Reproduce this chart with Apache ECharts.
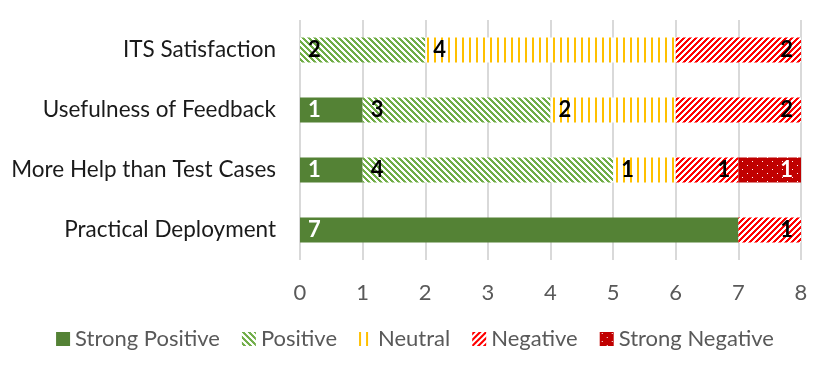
<!DOCTYPE html>
<html>
<head>
<meta charset="utf-8">
<script src="https://cdn.jsdelivr.net/npm/echarts@6/dist/echarts.min.js"></script>
<style>
  html, body { margin: 0; padding: 0; background: #fff; }
  #chart { width: 830px; height: 368px; }
</style>
</head>
<body>
<div id="chart"></div>
<script>
// data
var categories = ['ITS Satisfaction', 'Usefulness of Feedback', 'More Help than Test Cases', 'Practical Deployment'];
var strongPositive = [0, 1, 1, 7];
var positive = [2, 3, 4, 0];
var neutral = [4, 2, 1, 0];
var negative = [2, 2, 1, 1];
var strongNegative = [0, 0, 1, 0];
var xTicks = [0, 1, 2, 3, 4, 5, 6, 7, 8];

// patterns drawn pixel by pixel, like Excel fills
function makeTile(w, h, fg, bg, test) {
  var c = document.createElement('canvas');
  c.width = w; c.height = h;
  var ctx = c.getContext('2d');
  ctx.fillStyle = bg;
  ctx.fillRect(0, 0, w, h);
  ctx.fillStyle = fg;
  for (var y = 0; y < h; y++) {
    for (var x = 0; x < w; x++) {
      if (test(x, y)) ctx.fillRect(x, y, 1, 1);
    }
  }
  return c;
}

var posTile = makeTile(6, 6, '#70AD47', '#ffffff', function (x, y) { return ((x - y + 12) % 6) < 3; });
var neuTile = makeTile(7, 7, '#FFC000', '#ffffff', function (x, y) { return x < 2; });
var negTile = makeTile(6, 6, '#FF0000', '#ffffff', function (x, y) { return ((x + y) % 6) < 3; });
var snegTile = makeTile(10, 8, '#ffffff', '#C00000', function (x, y) {
  return (x === 2 && y === 1) || (x === 7 && y === 5);
});

function pat(tile) {
  return { image: tile, repeat: 'repeat' };
}

var chart = echarts.init(document.getElementById('chart'), null, { renderer: 'canvas' });

function seg(name, data, color, pos, labelColor) {
  return {
    name: name,
    type: 'bar',
    stack: 'total',
    barWidth: 25,
    data: data,
    itemStyle: { color: color },
    label: {
      show: true,
      position: pos,
      distance: 8,
      color: labelColor,
      fontFamily: 'Lato',
      fontWeight: 'bold',
      fontSize: 22,
      formatter: function (p) { return p.value ? String(p.value) : ''; }
    }
  };
}

chart.setOption({
  animation: false,
  textStyle: { fontFamily: 'Lato' },
  grid: { left: 300, right: 29, top: 20, bottom: 108 },
  legend: {
    bottom: 13,
    left: 'center',
    itemWidth: 14,
    itemHeight: 14,
    itemGap: 22,
    icon: 'rect',
    textStyle: { fontSize: 22, color: '#595959', fontFamily: 'Lato' },
    data: ['Strong Positive', 'Positive', 'Neutral', 'Negative', 'Strong Negative']
  },
  xAxis: {
    type: 'value',
    min: 0,
    max: 8,
    interval: 1,
    axisLine: { show: false },
    axisTick: { show: false },
    splitLine: { lineStyle: { color: '#d9d9d9', width: 2 } },
    axisLabel: {
      fontSize: 22,
      color: '#595959',
      margin: 22,
      formatter: function (v) { return xTicks.indexOf(v) >= 0 ? String(v) : ''; }
    }
  },
  yAxis: {
    type: 'category',
    inverse: true,
    data: categories,
    axisLine: { show: false },
    axisTick: { show: false },
    axisLabel: { fontSize: 22.5, color: '#1a1a1a', margin: 24 }
  },
  series: [
    seg('Strong Positive', strongPositive, '#548235', 'insideLeft', '#ffffff'),
    seg('Positive', positive, pat(posTile), 'insideLeft', '#000000'),
    seg('Neutral', neutral, pat(neuTile), 'insideLeft', '#000000'),
    seg('Negative', negative, pat(negTile), 'insideRight', '#000000'),
    seg('Strong Negative', strongNegative, pat(snegTile), 'insideRight', '#ffffff')
  ]
});
</script>
</body>
</html>
